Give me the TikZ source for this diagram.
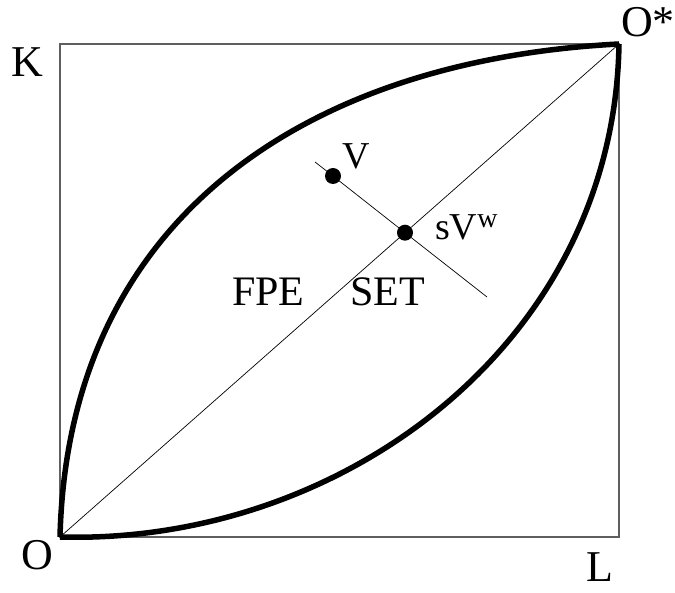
\documentclass[tikz,border=0pt]{standalone}
\usepackage{fontspec}
\setmainfont{Liberation Serif}
\usetikzlibrary{positioning}
\definecolor{framegr}{RGB}{95,95,95}

\begin{document}
\begin{tikzpicture}[x=1pt, y=-1pt,
    lbl/.style={inner sep=0pt, font=\fontsize{44}{48}\selectfont},
    mid/.style={inner sep=0pt, font=\fontsize{42}{46}\selectfont},
    ptl/.style={inner sep=0pt, font=\fontsize{38}{42}\selectfont},
    dot/.style={circle, fill, inner sep=0pt, minimum size=16pt}]
  \useasboundingbox (0,0) rectangle (675,593);
  % box
  \coordinate (O) at (60,537);
  \coordinate (Os) at (619,44);
  \draw[draw=framegr, line width=1.3pt] (O) rectangle (Os);
  % contract curves
  \draw[line width=5.5pt] (O) .. controls (68,215) and (310,60) .. (Os);
  \draw[line width=5.5pt] (O) .. controls (340,545) and (614,345) .. (Os);
  % diagonal
  \draw[line width=0.7pt] (O) -- (Os);
  % line through V
  \coordinate (v0) at (315,162);
  \coordinate (v1) at (487,297);
  \node[dot] (V) at (333,176) {};
  \node[dot] (W) at (405,232.7) {};
  \draw[line width=0.7pt] (v0) -- (V.center) -- (W.center) -- (v1);
  % labels
  \node[lbl, anchor=base] (Klbl) at (27,77) {K};
  \node[lbl, anchor=base west] (Oslbl) at (621,37) {O*};
  \node[lbl, anchor=base] (Olbl) at (37,569) {O};
  \node[lbl, anchor=base] (Llbl) at (600,581) {L};
  \node[mid, anchor=base west] (fpe) at (232,306) {FPE};
  \node[mid, anchor=base west] (set) at (350,306) {SET};
  \node[ptl, anchor=base west] (Vlbl) at (342,169) {V};
  \node[ptl, anchor=base west] (Wlbl) at (435,240)
    {sV\raisebox{12pt}{\fontsize{28}{30}\selectfont w}};
\end{tikzpicture}
\end{document}
